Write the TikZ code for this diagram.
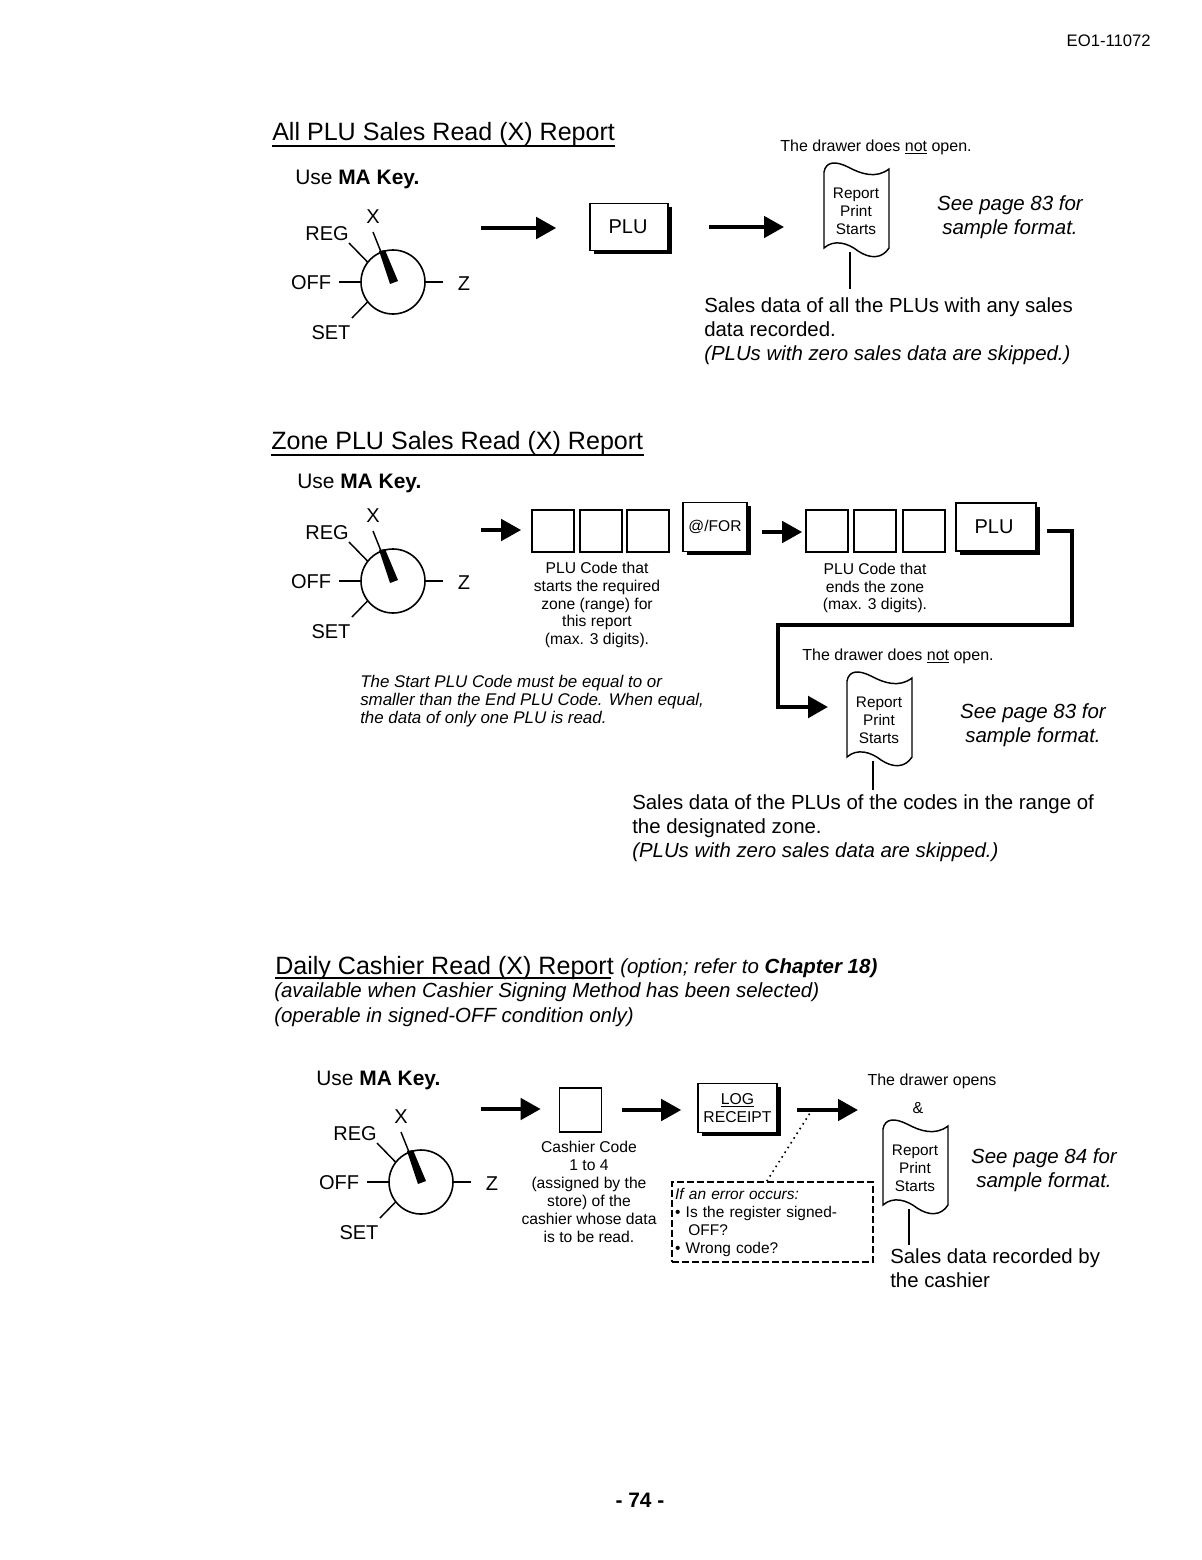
\documentclass[tikz,border=0pt]{standalone}
\usepackage{fontspec}
\setmainfont{Liberation Sans}
\usepackage{xcolor}
\usetikzlibrary{arrows.meta,shadows}
\tikzset{
  bodytxt/.style={inner sep=0pt,align=left,font=\fontsize{15.3}{18}\selectfont},
  seetxt/.style={inner sep=0pt,align=center,font=\fontsize{15.35}{18}\selectfont\itshape},
  titletxt/.style={inner sep=0pt,font=\fontsize{18.8}{22}\selectfont},
  usetxt/.style={inner sep=0pt,font=\fontsize{15.7}{18}\selectfont},
  ittxt/.style={inner sep=0pt,font=\fontsize{15.35}{18}\selectfont\itshape},
  smalltxt/.style={inner sep=0pt,align=center,font=\fontsize{11.75}{13.4}\selectfont},
  drawertxt/.style={inner sep=0pt,font=\fontsize{12}{14}\selectfont},
  dialtxt/.style={inner sep=0pt,font=\fontsize{15}{18}\selectfont},
  dialface/.style={circle,draw,line width=1.2pt,minimum size=48pt,inner sep=0pt,outer sep=0pt},
  tick/.style={line width=1.1pt},
  keybox/.style={draw,fill=white,line width=1.2pt,inner sep=0pt,
    general shadow={fill=black,shadow xshift=2.8pt,shadow yshift=-2.8pt}},
  keysize/.style 2 args={minimum width=#1*0.75pt,minimum height=#2*0.75pt},
  digitbox/.style={draw,line width=1.3pt,inner sep=0pt,minimum width=31.5pt,minimum height=32pt},
  flow/.style={line width=2.8pt,-{Triangle[length=15pt,width=16pt]}},
  sa/.style={shorten <=#1*0.75pt},
  gap/.style={shorten >=#1*0.75pt},
  stem/.style={line width=1.1pt},
  rule/.style={line width=1.2pt},
  keydial/.pic={
    \node[dialface] (-dial) at (0,0) {};
    \fill (-14,-31) -- (-8,-32) -- (5,-1) -- (-3,2) -- cycle;
    \draw[tick] (-12,-30) -- (-20,-50);
    \node[dialtxt] (-x) at (-20,-65) {X};
    \node[dialtxt] (-reg) at (-66,-48) {REG};
    \node[dialtxt] (-off) at (-82,1) {OFF};
    \node[dialtxt] (-set) at (-62,51) {SET};
    \node[dialtxt] (-z) at (71,2) {Z};
    \draw[tick] (-dial.142) -- (-44,-39);
    \draw[tick] (-dial.180) -- (-54,0);
    \draw[tick] (-dial.0) -- (50,0);
    \draw[tick] (-dial.218) -- (-41,36);
  },
  reportprint/.pic={
    \draw[line width=1.1pt] (-32,-39) .. controls (-30,-50) and (-20,-50) .. (-8,-44)
      .. controls (5,-37) and (20,-32) .. (33,-42) -- (33,37)
      .. controls (26,48) and (14,48) .. (2,40) .. controls (-8,32) and (-22,28) .. (-32,37) -- cycle;
    \node[smalltxt,font=\fontsize{11.5}{13.5}\selectfont] (-txt) at (0,0) {Report\\Print\\Starts};
    \coordinate (-lft) at (-32,0);
    \coordinate (-foot) at (-6,41);
  },
}

\begin{document}
\begin{tikzpicture}[x=0.75pt,y=-0.75pt]
  \path[fill=white,use as bounding box] (0,0) rectangle (1202,1560);
  \node[inner sep=0pt,font=\fontsize{12.5}{14}\selectfont,anchor=east] (docno) at (1151,41) {EO1-11072};

  % all PLU report
  \node[titletxt,anchor=west] (ttla) at (272,134) {All PLU Sales Read (X) Report};
  \draw[rule] (272,146) coordinate (ula) -- (615,146) coordinate (ulb);
  \node[usetxt,anchor=west] (usea) at (295,179) {Use \textbf{MA Key.}};
  \pic (dla) at (393,282) {keydial};
  \coordinate (arra) at (481,228);
  \node[keybox,keysize={78}{47}] (keya) at (629,227) {\fontsize{15}{18}\selectfont PLU\hspace*{1.5pt}};
  \draw[flow,gap=33] (arra) -- (arra -| keya.west);
  \node[drawertxt] (drwa) at (876,147) {The drawer does \underline{not} open.};
  \pic (rpa) at (856,211) {reportprint};
  \draw[flow,sa=40,gap=40] (keya.east) -- (keya.east -| rpa-lft);
  \node[seetxt] (seea) at (1010,217) {See page 83 for\\[0pt]sample format.};
  \node[bodytxt,anchor=west] (salea) at (704,331) {Sales data of all the PLUs with any sales\\data recorded.\\\textit{(PLUs with zero sales data are skipped.)}};
  \coordinate (stma) at (850,289);
  \draw[stem] (rpa-foot) -- (stma);

  % zone PLU report
  \node[titletxt,anchor=west] (ttlb) at (271,443) {Zone PLU Sales Read (X) Report};
  \draw[rule] (271,455) coordinate (ulc) -- (644,455) coordinate (uld);
  \node[usetxt,anchor=west] (useb) at (297,483) {Use \textbf{MA Key.}};
  \pic (dlb) at (393,581) {keydial};
  \coordinate (arrb) at (481,530);
  \foreach \n/\x in {a/553,b/601,c/648}{
    \node[digitbox] (dga\n) at (\x,531) {};
  }
  \draw[flow,gap=10] (arrb) -- (arrb -| dgaa.west);
  \node[keybox,keysize={64}{49}] (keyb) at (715,527) {\fontsize{11.7}{15}\selectfont @/FOR};
  \foreach \n/\x in {a/827,b/875,c/924}{
    \node[digitbox] (dgb\n) at (\x,531) {};
  }
  \coordinate (arrc) at (762,532);
  \draw[flow,gap=3] (arrc) -- (arrc -| dgba.west);
  \node[keybox,keysize={80}{48}] (keyc) at (996,527) {\fontsize{15}{18}\selectfont PLU\hspace*{3pt}};
  \node[smalltxt] (codea) at (597,605) {PLU Code that\\starts the required\\zone (range) for\\this report\\(max. 3 digits).};
  \node[smalltxt] (codeb) at (875,588) {PLU Code that\\ends the zone\\(max. 3 digits).};
  \node[smalltxt,align=left,anchor=west,font=\fontsize{12.68}{13.5}\selectfont\itshape] (notea) at (360,701) {The Start PLU Code must be equal to or\\smaller than the End PLU Code.  When equal,\\the data of only one PLU is read.};
  \coordinate (wira) at (1047,531);
  \coordinate (wirb) at (1072,625);
  \coordinate (wirc) at (778,625);
  \coordinate (wird) at (828,707);
  \draw[flow,line width=3.3pt] (wira) -| (wirb) -- (wirc) |- (wird);
  \node[drawertxt] (drwb) at (898,656) {The drawer does \underline{not} open.};
  \pic (rpb) at (879,720) {reportprint};
  \node[seetxt] (seeb) at (1033,725) {See page 83 for\\[0pt]sample format.};
  \node[bodytxt,anchor=west] (saleb) at (632,828) {Sales data of the PLUs of the codes in the range of\\the designated zone.\\\textit{(PLUs with zero sales data are skipped.)}};
  \coordinate (stmb) at (873,790);
  \draw[stem] (rpb-foot) -- (stmb);

  % daily cashier report
  \node[titletxt,anchor=west] (ttlc) at (275,968) {Daily Cashier Read (X) Report};
  \draw[rule] (275,978) coordinate (ule) -- (611,978) coordinate (ulf);
  \node[ittxt,anchor=west] (optc) at (620,968) {(option; refer to \textbf{Chapter 18)}};
  \node[ittxt,anchor=west] (avlc) at (274,992) {(available when Cashier Signing Method has been selected)};
  \node[ittxt,anchor=west] (oprc) at (274,1017) {(operable in signed-OFF condition only)};
  \node[usetxt,anchor=west] (usec) at (316,1080) {Use \textbf{MA Key.}};
  \pic (dlc) at (421,1182) {keydial};
  \coordinate (arrd) at (481,1109);
  \node[digitbox,minimum height=33pt] (dgc) at (580.5,1110) {};
  \draw[flow,gap=18] (arrd) -- (arrd -| dgc.west);
  \node[keybox,keysize={79}{49},align=center,font=\fontsize{11.8}{13.5}\selectfont] (keyd) at (737.5,1108) {\underline{LOG}\\RECEIPT};
  \draw[flow,sa=20,gap=16] (dgc.east) -- (dgc.east -| keyd.west);
  \node[smalltxt] (codec) at (589,1192) {Cashier Code\\1 to 4\\(assigned by the\\store) of the\\cashier whose data\\is to be read.};
  \node[drawertxt] (drwc) at (932,1081) {The drawer opens};
  \node[drawertxt] (ampc) at (918,1108) {\&};
  \pic (rpc) at (915,1168) {reportprint};
  \coordinate (arre) at (780,1110);
  \draw[flow,sa=17,gap=25] (arre) -- (arre -| rpc-lft);
  \node[seetxt] (seec) at (1044,1170) {See page 84 for\\[0pt]sample format.};
  \node[draw,dash pattern=on 5pt off 2.5pt,line width=1.2pt,inner sep=0pt,minimum width=150.75pt,minimum height=60pt,
    text width=146pt,align=left,font=\fontsize{11.6}{13.5}\selectfont] (errbox) at (772.5,1222)
    {\textit{If an error occurs:}\\\textbullet\ Is the register signed-\\\hspace*{0.85em}OFF?\\\textbullet\ Wrong code?};
  \coordinate (errtip) at (810,1113);
  \draw[dash pattern=on 1.2pt off 3pt,line width=1.2pt] (errbox.98) -- (errtip);
  \node[bodytxt,anchor=west] (salec) at (890,1268) {Sales data recorded by\\the cashier};
  \coordinate (stmc) at (909,1245);
  \draw[stem] (rpc-foot) -- (stmc);

  \node[inner sep=0pt,font=\fontsize{15.7}{18}\selectfont\bfseries] (pgno) at (640,1500) {- 74 -};
\end{tikzpicture}
\end{document}
